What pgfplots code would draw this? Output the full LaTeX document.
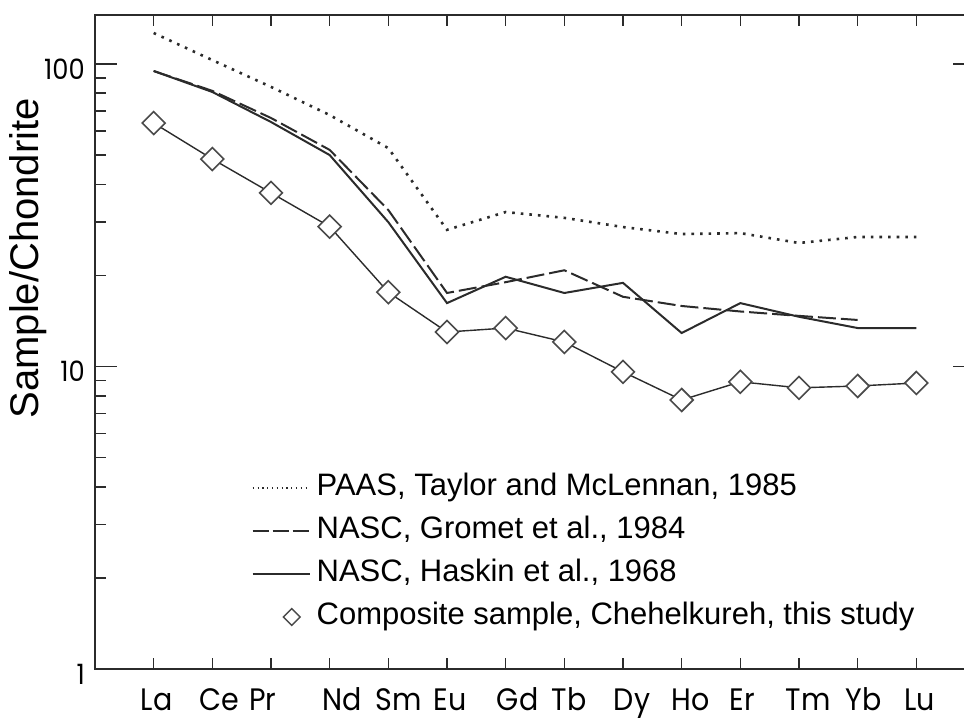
\documentclass[border=0pt]{standalone}
\usepackage{fontspec}
\setmainfont{Liberation Sans}
\newfontfamily\gothic[FakeStretch=0.92]{Poppins}
\usepackage{pgfplots}
\pgfplotsset{compat=1.18}
\definecolor{ink}{HTML}{2B2B2B}
\definecolor{mk}{HTML}{4A4A4A}
\pgfplotsset{
  linelegend/.style={legend image code/.code={\draw[##1] (0pt,0pt) -- (57pt,0pt);}},
  marklegend/.style={legend image code/.code={\draw[##1] plot coordinates {(39pt,0pt)};}},
}
\newcommand{\rs}[2]{\hspace*{#1pt}#2}
\newcommand{\ls}[2]{#2\hspace*{#1pt}}
\begin{document}
\begin{tikzpicture}
\begin{axis}[
  scale only axis,
  width=880pt, height=654pt,
  xmin=-1, xmax=14,
  ymode=log, ymin=1, ymax=145.2,
  axis line style={ink, line width=1.6pt},
  xtick={0,...,13},
  xticklabels={\rs{6}{La},\rs{14}{Ce},\ls{16}{Pr},\rs{24}{Nd},\rs{20}{Sm},\rs{6}{Eu},\rs{24}{Gd},\rs{10}{Tb},\rs{18}{Dy},\rs{18}{Ho},\rs{4}{Er},\rs{18}{Tm},\rs{12}{Yb},\rs{6}{Lu}},
  every major x tick/.append style={draw=none},
  minor xtick={0,...,13},
  ytick={1,10,100},
  yticklabels={1,10,100},
  major tick length=22pt,
  minor tick length=11pt,
  tick style={ink, line width=1.6pt},
  x tick label style={font=\gothic\fontsize{31}{31}\selectfont, inner sep=0pt, anchor=base, yshift=-42pt},
  y tick label style={font=\gothic\fontsize{28}{28}\selectfont, inner sep=0pt, anchor=east, xshift=-10pt, yshift=-5pt},
  ylabel={Sample/Chondrite},
  ylabel style={font=\fontsize{40}{40}\selectfont, at={(axis description cs:-0.0761,0.628)}, anchor=center},
  legend style={draw=none, fill=none, inner sep=0pt, at={(axis description cs:0.178,0.31)}, anchor=north west,
    font=\fontsize{31}{31}\selectfont, row sep=0pt,
    nodes={text height=22pt, text depth=6pt, inner ysep=7.5pt, inner xsep=6pt}},
  legend cell align=left,
]
% PAAS, Taylor and McLennan 1985
\addplot[ink, line width=2.6pt, dash pattern=on 2.6pt off 6pt, forget plot] coordinates {
 (0,126.6) (1,103) (2,84) (3,67.8) (4,52.7) (5,28.3) (6,32.4) (7,31.0) (8,28.9) (9,27.4) (10,27.6) (11,25.6) (12,26.8) (13,26.8)};
% NASC, Gromet et al. 1984
\addplot[ink, line width=2pt, dash pattern=on 18pt off 5pt, forget plot] coordinates {
 (0,94.8) (1,81.5) (2,66.3) (3,52.0) (4,32.9) (5,17.5) (6,19.0) (7,20.8) (8,17.0) (9,15.85) (10,15.2) (11,14.7) (12,14.25)};
% NASC, Haskin et al. 1968
\addplot[ink, line width=2pt, forget plot] coordinates {
 (0,94.8) (1,80.8) (2,64.3) (3,50.0) (4,30.0) (5,16.2) (6,19.8) (7,17.5) (8,18.9) (9,12.9) (10,16.2) (11,14.6) (12,13.4) (13,13.4)};
% Composite sample
\addplot[ink, line width=1.4pt, mark=square*, mark size=8.1pt,
  mark options={rotate=45, fill=white, draw=mk, line width=1.6pt, solid}, forget plot] coordinates {
 (0,63.8) (1,48.5) (2,37.5) (3,29.0) (4,17.6) (5,13.0) (6,13.4) (7,12.05) (8,9.6) (9,7.75) (10,8.9) (11,8.5) (12,8.62) (13,8.82)};

\addlegendimage{ink, line width=1.2pt, dash pattern=on 1.2pt off 3.6pt, linelegend}
\addlegendentry{PAAS, Taylor and McLennan, 1985}
\addlegendimage{ink, line width=1.8pt, dash pattern=on 16pt off 4pt, linelegend}
\addlegendentry{NASC, Gromet et al., 1984}
\addlegendimage{ink, line width=1.8pt, linelegend}
\addlegendentry{NASC, Haskin et al., 1968}
\addlegendimage{only marks, mark=square, mark size=5.9pt, mark options={rotate=45, draw=mk, line width=1.4pt}, marklegend}
\addlegendentry{Composite sample, Chehelkureh, this study}
\end{axis}
\pgfresetboundingbox
\path[use as bounding box] ([shift={(-95pt,-53pt)}]current axis.south west) rectangle ([shift={(869pt,669pt)}]current axis.south west);
\end{tikzpicture}
\end{document}
